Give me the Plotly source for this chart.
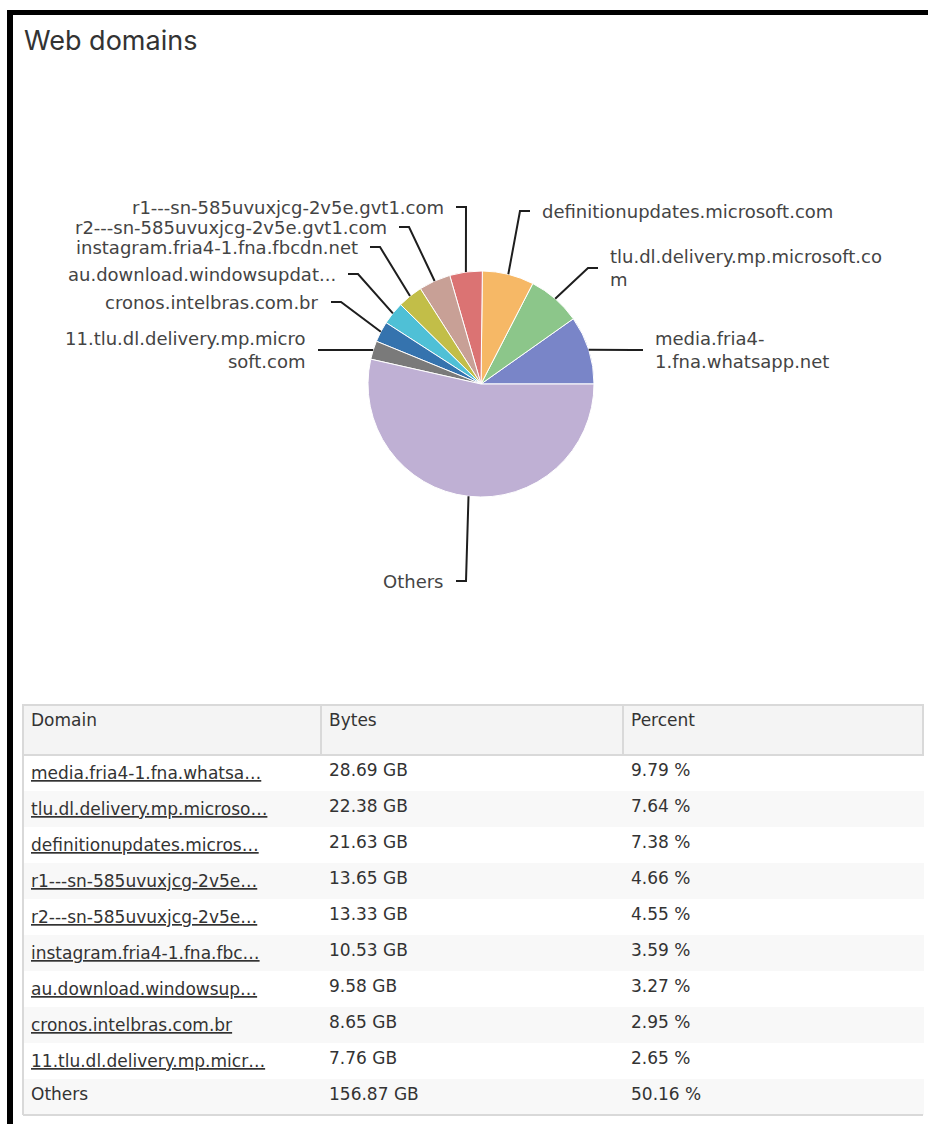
import math
import plotly.graph_objects as go

# ---------------- data ----------------
domains_full = [
    "media.fria4-1.fna.whatsapp.net",
    "tlu.dl.delivery.mp.microsoft.com",
    "definitionupdates.microsoft.com",
    "r1---sn-585uvuxjcg-2v5e.gvt1.com",
    "r2---sn-585uvuxjcg-2v5e.gvt1.com",
    "instagram.fria4-1.fna.fbcdn.net",
    "au.download.windowsupdate.com",
    "cronos.intelbras.com.br",
    "11.tlu.dl.delivery.mp.microsoft.com",
    "Others",
]
pie_labels = [
    "media.fria4-<br>1.fna.whatsapp.net",
    "tlu.dl.delivery.mp.microsoft.co<br>m",
    "definitionupdates.microsoft.com",
    "r1---sn-585uvuxjcg-2v5e.gvt1.com",
    "r2---sn-585uvuxjcg-2v5e.gvt1.com",
    "instagram.fria4-1.fna.fbcdn.net",
    "au.download.windowsupdat...",
    "cronos.intelbras.com.br",
    "11.tlu.dl.delivery.mp.micro<br>soft.com",
    "Others",
]
table_labels = [
    "media.fria4-1.fna.whatsa…",
    "tlu.dl.delivery.mp.microso…",
    "definitionupdates.micros…",
    "r1---sn-585uvuxjcg-2v5e…",
    "r2---sn-585uvuxjcg-2v5e…",
    "instagram.fria4-1.fna.fbc…",
    "au.download.windowsup…",
    "cronos.intelbras.com.br",
    "11.tlu.dl.delivery.mp.micr…",
    "Others",
]
is_link = [True, True, True, True, True, True, True, True, True, False]
bytes_gb = [28.69, 22.38, 21.63, 13.65, 13.33, 10.53, 9.58, 8.65, 7.76, 156.87]
percent = [9.79, 7.64, 7.38, 4.66, 4.55, 3.59, 3.27, 2.95, 2.65, 50.16]
colors = ["#7985C8", "#8CC68A", "#F6B866", "#DB7373", "#C8A096",
          "#C2BE48", "#4FC0D6", "#3573AE", "#7A7A7A", "#BFB0D4"]

# ---------------- layout constants ----------------
W, H = 928, 1124
CX, CY, R = 481, 384, 113          # pie centre / radius (px)
# label placement: (elbow x, label y, side)
label_layout = [
    (633, 350, "right"),
    (588, 268, "right"),
    (520, 211, "right"),
    (466, 207, "left"),
    (409, 227, "left"),
    (380, 247, "left"),
    (358, 274, "left"),
    (341, 302, "left"),
    (328, 350, "left"),
    (466, 581, "left"),
]
SEG, GAP = 10, 10
LABEL_FONT = dict(family="DejaVu Sans", size=18, color="#444444")
TABLE_FONT = "DejaVu Sans"

fig = go.Figure()

total = sum(bytes_gb)
fig.add_trace(go.Pie(
    labels=domains_full, values=bytes_gb, sort=False,
    direction="counterclockwise",
    # plotly starts a counter-clockwise pie one slice early: first slice begins at 3 o'clock
    rotation=90 - 360 * bytes_gb[0] / total,
    textinfo="none", showlegend=False,
    marker=dict(colors=colors, line=dict(color="white", width=1)),
    domain=dict(x=[(CX - R) / W, (CX + R) / W],
                y=[1 - (CY + R) / H, 1 - (CY - R) / H]),
))

# leader lines & labels computed from slice angles
cum = 0.0
shapes = []
annotations = []
for i, v in enumerate(bytes_gb):
    mid = (cum + v / 2) / total * 2 * math.pi
    cum += v
    sx = CX + R * math.cos(mid)
    sy = CY - R * math.sin(mid)
    ex, ey, side = label_layout[i]
    hx = ex + SEG if side == "right" else ex - SEG
    shapes.append(dict(type="path", xref="x", yref="y",
                       path=f"M {sx:.1f} {sy:.1f} L {ex} {ey} L {hx} {ey}",
                       line=dict(color="#1e1e1e", width=2)))
    tx = hx + GAP if side == "right" else hx - GAP
    annotations.append(dict(
        x=tx, y=ey, xref="x", yref="y", text=pie_labels[i], showarrow=False,
        xanchor="left" if side == "right" else "right", yanchor="middle",
        align="left" if side == "right" else "right", font=LABEL_FONT))

# title
annotations.append(dict(x=22, y=40, xref="x", yref="y", text="Web domains",
                        showarrow=False, xanchor="left", yanchor="middle",
                        font=dict(family="Inter", size=27, color="#333333")))

# table
TX0, TX1, TY0 = 23, 923, 705
HEAD_H, ROW_H = 50, 36
TY1 = TY0 + HEAD_H + ROW_H * len(domains_full)
row_fill = ["#ffffff" if r % 2 == 0 else "#f8f8f8" for r in range(len(domains_full))]
dom_cells = [f"<u>{t}</u>" if l else t for t, l in zip(table_labels, is_link)]
fig.add_trace(go.Table(
    domain=dict(x=[TX0 / W, TX1 / W], y=[1 - TY1 / H, 1 - TY0 / H]),
    columnwidth=[298, 302, 300],
    header=dict(values=["Domain", "Bytes", "Percent"], height=HEAD_H,
                align="left", fill_color="#f4f4f4",
                line=dict(color="#d9d9d9", width=2),
                font=dict(family=TABLE_FONT, size=17, color="#333333")),
    cells=dict(values=[dom_cells,
                       [f"{b:.2f} GB" for b in bytes_gb],
                       [f"{p:.2f} %" for p in percent]],
               height=ROW_H, align="left",
               fill_color=[row_fill] * 3,
               line=dict(color=[row_fill] * 3, width=1),
               font=dict(family=TABLE_FONT, size=17, color="#333333")),
))

# table outer border (left & bottom)
shapes.append(dict(type="line", xref="x", yref="y", x0=TX0, x1=TX0,
                   y0=TY0, y1=TY1, line=dict(color="#d9d9d9", width=2), layer="above"))
shapes.append(dict(type="line", xref="x", yref="y", x0=TX0, x1=TX1,
                   y0=TY1, y1=TY1, line=dict(color="#d9d9d9", width=2), layer="above"))

# black panel frame (top & left)
shapes.append(dict(type="rect", xref="x", yref="y", x0=7, x1=W + 5, y0=10, y1=15,
                   fillcolor="black", line=dict(width=0), layer="above"))
shapes.append(dict(type="rect", xref="x", yref="y", x0=7, x1=13, y0=10, y1=H + 5,
                   fillcolor="black", line=dict(width=0), layer="above"))

fig.update_layout(
    width=W, height=H, margin=dict(l=0, r=0, t=0, b=0),
    paper_bgcolor="white", plot_bgcolor="rgba(0,0,0,0)",
    xaxis=dict(range=[0, W], visible=False, fixedrange=True, domain=[0, 1]),
    yaxis=dict(range=[H, 0], visible=False, fixedrange=True, domain=[0, 1]),
    shapes=shapes, annotations=annotations,
)

fig.write_html("out.html")
